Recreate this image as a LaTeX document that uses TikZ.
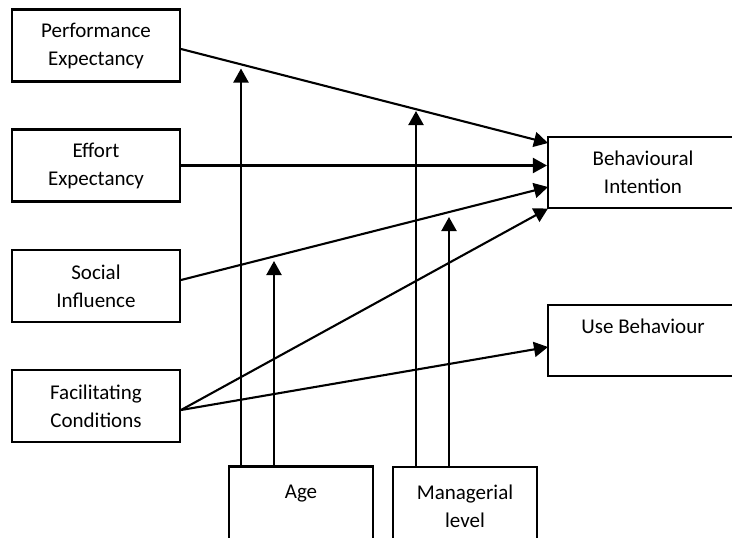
\documentclass[tikz,border=0pt]{standalone}
\usepackage{fontspec}
\setmainfont{Carlito}
\usetikzlibrary{arrows.meta}
\begin{document}
\begin{tikzpicture}[x=1pt,y=-1pt,
  box/.style={draw, line width=2.1pt, align=center, inner sep=0pt,
    font=\fontsize{21}{28}\selectfont},
  leftbox/.style={box, minimum width=168pt, minimum height=72pt},
  rightbox/.style={box, minimum width=210pt, minimum height=71pt},
  modbox/.style={box, minimum width=144pt, minimum height=78pt},
  link/.style={line width=2.1pt},
  arr/.style={link, -{Triangle[length=14pt,width=15pt]}}]
  \clip (0,0) rectangle (732,538);

  % constructs
  \node[leftbox] (pe) at (96,45.5)  {Performance\\Expectancy};
  \node[leftbox] (ee) at (96,165.5) {Effort\\Expectancy};
  \node[leftbox] (si) at (96,286)   {Social\\Influence};
  \node[leftbox] (fc) at (96,406)   {Facilitating\\Conditions};

  % outcomes (boxes run on past the right edge)
  \node[rightbox] (bi) at (653,172.5)
    {Behavioural\hspace*{20pt}\\Intention\hspace*{20pt}};
  \node[rightbox] (ub) at (653,340.5)
    {Use Behaviour\hspace*{20pt}\\\mbox{}};

  % moderators
  \node[modbox] (age) at (301,505.5) {Age\\\mbox{}};
  \node[modbox] (mgr) at (465,506)   {Managerial\\level};

  % end points of the paths
  \coordinate (peo) at (180,49);
  \coordinate (sio) at (180,280);
  \coordinate (fco) at (180,410);
  \coordinate (bi1) at (548,143);
  \coordinate (bi3) at (548,187);
  \coordinate (bi4) at (548,208.5);
  \coordinate (ub1) at (548,347);

  % direct effects
  \draw[arr] (pe.east |- peo) -- (bi1);
  \draw[arr] (ee.east) -- (bi.west |- ee.east);
  \draw[arr] (si.east |- sio) -- (bi3);
  \draw[arr] (fc.east |- fco) -- (bi4);
  \draw[arr] (fc.east |- fco) -- (ub1);

  % moderating effects
  \coordinate (m1) at (241,68.5);
  \coordinate (m2) at (274,261);
  \coordinate (m3) at (416,111);
  \coordinate (m4) at (449,217);
  \draw[arr] (age.north -| m1) -- (m1);
  \draw[arr] (age.north -| m2) -- (m2);
  \draw[arr] (mgr.north -| m3) -- (m3);
  \draw[arr] (mgr.north -| m4) -- (m4);
\end{tikzpicture}
\end{document}
